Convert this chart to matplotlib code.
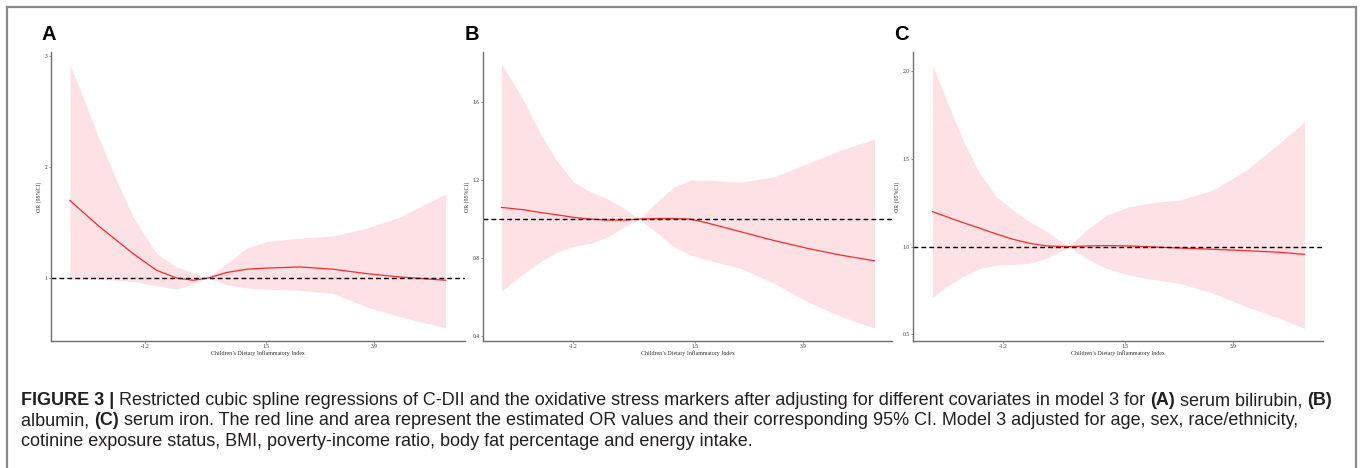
import matplotlib.pyplot as plt
from matplotlib import font_manager
from matplotlib.lines import Line2D

# ---- data (C-DII vs OR, 95% CI) ----
# panel A: serum bilirubin
a_x = [-2.87, -2.20, -1.83, -1.46, -0.94, -0.49, -0.12, 0.20, 0.62, 1.07, 1.51, 2.25, 2.99, 3.74, 4.48, 5.50]
a_or = [1.70, 1.46, 1.34, 1.22, 1.07, 1.00, 0.98, 1.00, 1.05, 1.08, 1.09, 1.10, 1.08, 1.04, 1.01, 0.98]
a_lo = [0.99, 0.99, 0.98, 0.97, 0.93, 0.90, 0.95, 1.00, 0.94, 0.91, 0.90, 0.89, 0.86, 0.74, 0.65, 0.55]
a_hi = [2.93, 2.24, 1.88, 1.55, 1.22, 1.10, 1.05, 1.00, 1.13, 1.27, 1.33, 1.36, 1.38, 1.45, 1.55, 1.76]

# panel B: albumin
b_x = [-2.79, -2.30, -1.93, -1.56, -1.19, -0.82, -0.45, -0.07, 0.27, 0.67, 1.04, 1.41, 1.78, 2.52, 3.26, 4.00, 4.74, 5.49]
b_or = [1.060, 1.048, 1.034, 1.022, 1.009, 1.000, 0.995, 0.995, 1.000, 1.003, 1.003, 1.000, 0.980, 0.935, 0.890, 0.850, 0.815, 0.786]
b_lo = [0.63, 0.72, 0.78, 0.83, 0.86, 0.875, 0.906, 0.96, 1.00, 0.927, 0.858, 0.815, 0.79, 0.747, 0.67, 0.576, 0.50, 0.44]
b_hi = [1.798, 1.61, 1.44, 1.30, 1.19, 1.14, 1.106, 1.055, 1.00, 1.09, 1.166, 1.20, 1.20, 1.19, 1.217, 1.285, 1.354, 1.41]

# panel C: serum iron
c_x = [-2.77, -2.46, -2.09, -1.72, -1.35, -0.98, -0.61, -0.24, 0.26, 0.65, 1.09, 1.61, 1.98, 2.72, 3.46, 4.20, 4.93, 5.49]
c_or = [1.200, 1.171, 1.137, 1.105, 1.072, 1.042, 1.019, 1.004, 1.000, 1.004, 1.006, 1.004, 1.000, 0.992, 0.985, 0.977, 0.968, 0.956]
c_lo = [0.709, 0.772, 0.829, 0.876, 0.895, 0.899, 0.905, 0.933, 1.000, 0.933, 0.876, 0.838, 0.819, 0.791, 0.734, 0.658, 0.591, 0.534]
c_hi = [2.036, 1.836, 1.608, 1.418, 1.285, 1.209, 1.143, 1.086, 1.000, 1.095, 1.180, 1.228, 1.247, 1.266, 1.323, 1.437, 1.589, 1.713]

x_ticks = [-1.2, 1.5, 3.9]
x_tick_labels = ['-1.2', '1.5', '3.9']
y_ticks = [[1, 2, 3], [0.4, 0.8, 1.2, 1.6], [0.5, 1.0, 1.5, 2.0]]
y_tick_labels = [['1', '2', '3'], ['0.4', '0.8', '1.2', '1.6'], ['0.5', '1.0', '1.5', '2.0']]
panel_letters = ['A', 'B', 'C']

W, H = 1360, 468
fig = plt.figure(figsize=(W / 100, H / 100), dpi=100)

installed = {f.name for f in font_manager.fontManager.ttflist}
cap_font = 'Liberation Sans Narrow' if 'Liberation Sans Narrow' in installed else 'Liberation Sans'
serif = 'Liberation Serif'


def px_axes(left, top, right, bottom):
    return fig.add_axes([left / W, 1 - bottom / H, (right - left) / W, (bottom - top) / H])


# axes boxes in pixels (left, top, right, bottom)
boxes = [(51, 52, 465, 341), (483, 52, 892, 341), (913, 52, 1323, 341)]
xlims = [(-3.29, 5.93), (-3.2, 5.88), (-3.2, 5.9)]
ylims = [(0.432, 3.04), (0.374, 1.858), (0.462, 2.11)]
letter_x = [42, 465, 894]

series = [(a_x, a_or, a_lo, a_hi), (b_x, b_or, b_lo, b_hi), (c_x, c_or, c_lo, c_hi)]

for i, (xs, ors, lo, hi) in enumerate(series):
    ax = px_axes(*boxes[i])
    ax.fill_between(xs, lo, hi, color='#FDE1E5', lw=0)
    ax.plot(xs, ors, color='#FF2A2A', lw=0.9)
    ax.axhline(1, color='black', lw=1.0, dashes=(3.5, 2.2))
    ax.set_xlim(*xlims[i])
    ax.set_ylim(*ylims[i])
    ax.set_xticks(x_ticks)
    ax.set_xticklabels(x_tick_labels)
    ax.set_yticks(y_ticks[i])
    ax.set_yticklabels(y_tick_labels[i])
    for side in ['top', 'right']:
        ax.spines[side].set_visible(False)
    for side in ['left', 'bottom']:
        ax.spines[side].set_color('#6E6E6E')
        ax.spines[side].set_linewidth(1.0)
    ax.tick_params(length=1.5, width=0.5, color='#6E6E6E', pad=1,
                   labelsize=4, labelcolor='#333333')
    for lab in ax.get_xticklabels() + ax.get_yticklabels():
        lab.set_family(serif)
    ax.set_xlabel('Children\u2019s Dietary Inflammatory Index', fontsize=4.2,
                  family=serif, color='#333333', labelpad=1)
    ax.set_ylabel('OR (95%CI)', fontsize=4.2, family=serif, color='#333333', labelpad=2)
    fig.text(letter_x[i] / W, 1 - 40 / H, panel_letters[i], fontsize=14.5,
             fontweight='bold', family='Liberation Sans', ha='left', va='baseline')

# outer frame (bottom edge runs off the image)
frame = dict(color='#8A8A8A', lw=1.6, transform=fig.transFigure)
fig.add_artist(Line2D([7 / W, 1356 / W], [1 - 7 / H, 1 - 7 / H], **frame))
fig.add_artist(Line2D([7 / W, 7 / W], [1 - 7 / H, -0.02], **frame))
fig.add_artist(Line2D([1356 / W, 1356 / W], [1 - 7 / H, -0.02], **frame))

# caption, mixing bold and regular pieces on one line
caption = [
    [('FIGURE 3 |', True),
     (' Restricted cubic spline regressions of C-DII and the oxidative stress markers after adjusting for different covariates in model 3 for ', False),
     ('(A)', True), (' serum bilirubin, ', False), ('(B)', True)],
    [('albumin, ', False), ('(C)', True),
     (' serum iron. The red line and area represent the estimated OR values and their corresponding 95% CI. Model 3 adjusted for age, sex, race/ethnicity,', False)],
    [('cotinine exposure status, BMI, poverty-income ratio, body fat percentage and energy intake.', False)],
]
baselines = [405, 425, 446]

fig.canvas.draw()
renderer = fig.canvas.get_renderer()
for line, base in zip(caption, baselines):
    x = 21
    for txt, bold in line:
        t = fig.text(x / W, 1 - base / H, txt, fontsize=13, family=cap_font,
                     fontweight='bold' if bold else 'normal', color='#231F20',
                     ha='left', va='baseline')
        x += t.get_window_extent(renderer).width

fig.savefig('out.png', dpi=100)
